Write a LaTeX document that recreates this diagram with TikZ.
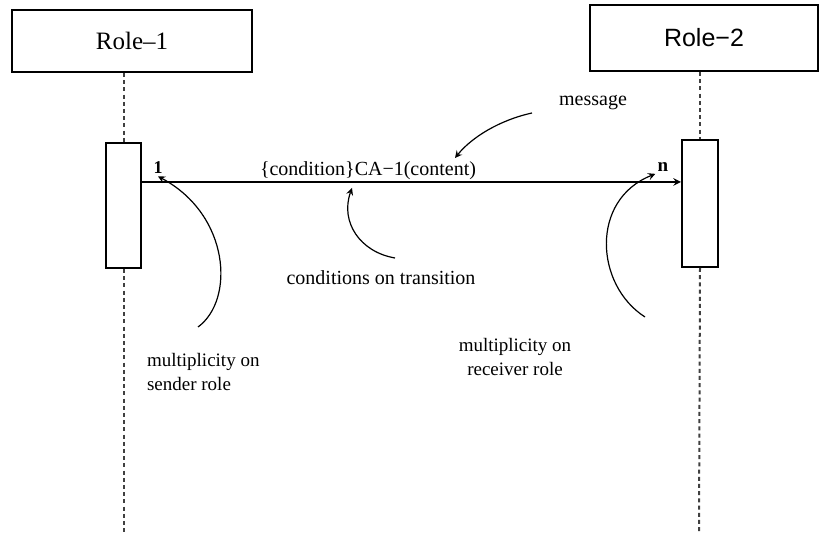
\documentclass[tikz,border=0pt]{standalone}
\usepackage{fontspec}
\setmainfont{Liberation Serif}
\setsansfont{Liberation Sans}
\usetikzlibrary{arrows}
\usetikzlibrary{calc}

\begin{document}
\begin{tikzpicture}[x = 0.5pt, y = -0.5pt, >=stealth]
		\useasboundingbox (0, 0) rectangle (820, 533);

		\begin{scope}[every node/.style={rectangle, draw, line width = 1pt, inner sep = 0pt}]
		\node (role1) [minimum width = 120pt, minimum height = 31pt] at (132, 41) {\fontsize{12.5}{15}\selectfont Role–1};
		\node (role2) [minimum width = 114pt, minimum height = 33pt] at (704, 38) {\fontsize{12.5}{15}\selectfont\sffamily Role−2};
		\node (act1) [minimum width = 17.5pt, minimum height = 62.5pt] at (123.5, 205.5) {};
		\node (act2) [minimum width = 18pt, minimum height = 63.5pt] at (700, 203.5) {};
		\end{scope}

		\begin{scope}[every node/.style={font = \fontsize{10}{12}\selectfont}]
		\node (msglbl) [anchor = south, inner sep = 1pt] at (368, 182) {\{condition\}CA−1(content)};
		\node (one) [inner sep = 1pt, font = \fontsize{9}{11}\selectfont\bfseries] at (158, 168) {1};
		\node (nn) [inner sep = 1pt, font = \fontsize{9.5}{11}\selectfont\bfseries] at (663, 167) {n};
		\node (msg) at (593, 103) {message};
		\node (cond) at (381, 278) {conditions on transition};
		\end{scope}

		\begin{scope}[every node/.style={font = \fontsize{9.5}{12}\selectfont}]
		\node (send) [anchor = north west, align = left] at (140, 346) {multiplicity on\\sender role};
		\node (recv) [anchor = north, align = center] at (515, 331) {multiplicity on\\receiver role};
		\end{scope}

		\coordinate (bot1) at (123.5, 533);
		\coordinate (bot2) at (699, 533);
		\coordinate (mtail) at (532, 113);
		\coordinate (mtip) at (455, 158);
		\coordinate (ctail) at (395, 258);
		\coordinate (ctip) at (352, 188);
		\coordinate (stail) at (198, 327);
		\coordinate (rtail) at (645, 317);

		% lifelines
		\begin{scope}[dash pattern = on 2pt off 1.6pt, line width = 1pt, black!75]
		\draw (role1.south -| act1.north) -- (act1.north);
		\draw (act1.south) -- (bot1);
		\draw (role2.south -| act2.north) -- (act2.north);
		\draw (act2.south) -- (bot2);
		\end{scope}

		\draw [->, line width = 0.7pt] (act1.east |- msglbl.south) -- (act2.west |- msglbl.south);

		\begin{scope}[line width = 0.6pt]
		\draw [->] (mtail) .. controls (500, 120) and (472, 137) .. (mtip);
		\draw [->] (ctail) .. controls (360, 252) and (340, 222) .. (ctip);
		\draw [->] (stail) .. controls (235, 300) and (230, 215) .. (one.south);
		\draw [->] (rtail) .. controls (595, 285) and (590, 200) .. (nn.south west);
		\end{scope}

\end{tikzpicture}
\end{document}
